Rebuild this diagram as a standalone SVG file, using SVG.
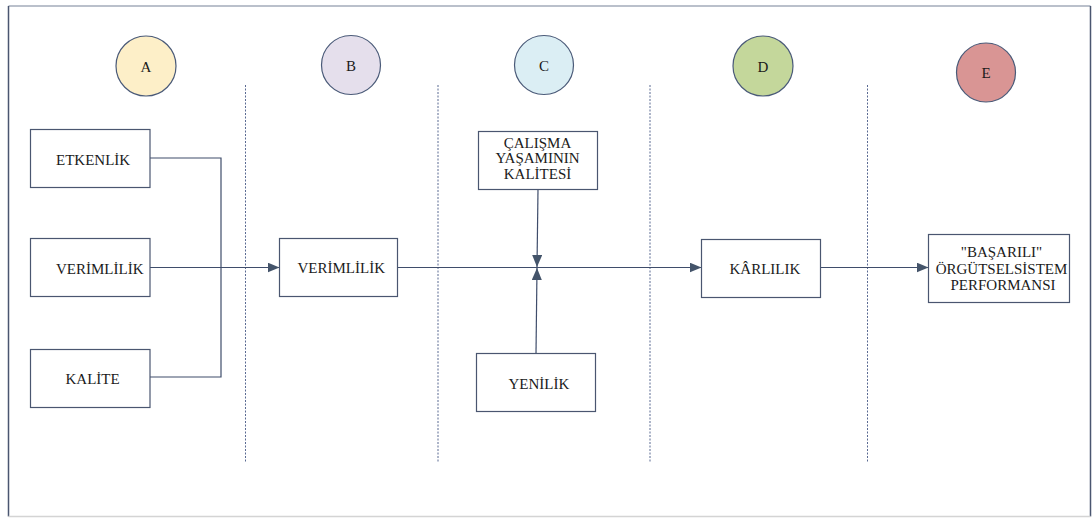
<svg xmlns="http://www.w3.org/2000/svg" width="1092" height="518" viewBox="0 0 1092 518">
  <style>
    .frame-dark { stroke: #4a5670; stroke-width: 1.5; fill: none; }
    .frame-light { stroke: #a3abba; stroke-width: 1.5; fill: none; }
    .lane { stroke: #5a6a92; stroke-width: 1; stroke-dasharray: 2 1.5; fill: none; }
    .circle { stroke: #4a5a78; stroke-width: 1.2; }
    .box { fill: #ffffff; stroke: #4a5670; stroke-width: 1.2; }
    .conn { stroke: #3f4d6b; stroke-width: 1.2; fill: none; }
    .label { font-family: 'Liberation Serif', 'Times New Roman', 'DejaVu Serif', serif; font-size: 15px; font-weight: normal; fill: #1a1a1a; }
    .mid { text-anchor: middle; }
  </style>
  <defs>
    <marker id="arrow" viewBox="0 0 12 10" refX="12" refY="5" markerWidth="12" markerHeight="10" markerUnits="userSpaceOnUse" orient="auto">
      <path d="M0,0 L12,5 L0,10 Z" fill="#44546a"/>
    </marker>
  </defs>

  <rect width="1092" height="518" fill="#ffffff"/>

  <!-- outer frame -->
  <g id="frame">
    <line class="frame-light" x1="8.5" y1="6" x2="1090.5" y2="6"/>
    <line class="frame-dark" x1="8.5" y1="6" x2="8.5" y2="516.5"/>
    <line class="frame-dark" x1="1090.5" y1="6" x2="1090.5" y2="516.5"/>
    <line stroke="#d4d4d4" stroke-width="1.5" x1="8.5" y1="516.5" x2="1090.5" y2="516.5"/>
  </g>

  <!-- dashed lane separators -->
  <g id="lanes">
    <line class="lane" x1="245.5" y1="85" x2="245.5" y2="463"/>
    <line class="lane" x1="438" y1="85" x2="438" y2="463"/>
    <line class="lane" x1="650" y1="85" x2="650" y2="463"/>
    <line class="lane" x1="867.5" y1="85" x2="867.5" y2="463"/>
  </g>

  <!-- column headers -->
  <g id="col-a">
    <circle class="circle" cx="146" cy="66" r="30" fill="#fdefc8"/>
    <text class="label mid" x="146" y="71.5" font-family="Liberation Serif, serif">A</text>
  </g>
  <g id="col-b">
    <circle class="circle" cx="351" cy="65" r="29.5" fill="#e5dfec"/>
    <text class="label mid" x="351" y="70.5" font-family="Liberation Serif, serif">B</text>
  </g>
  <g id="col-c">
    <circle class="circle" cx="544" cy="65" r="29.5" fill="#dbeef4"/>
    <text class="label mid" x="544" y="70.5" font-family="Liberation Serif, serif">C</text>
  </g>
  <g id="col-d">
    <circle class="circle" cx="763" cy="66" r="30" fill="#c4d79b"/>
    <text class="label mid" x="763" y="71.5" font-family="Liberation Serif, serif">D</text>
  </g>
  <g id="col-e">
    <circle class="circle" cx="986" cy="72.5" r="29.5" fill="#d99594"/>
    <text class="label mid" x="986" y="78" font-family="Liberation Serif, serif">E</text>
  </g>

  <!-- connectors -->
  <g id="connectors">
    <polyline class="conn" points="150,158 221,158 221,377 150,377"/>
    <line class="conn" x1="150" y1="267.5" x2="279.5" y2="267.5" marker-end="url(#arrow)"/>
    <line class="conn" x1="397.5" y1="267.5" x2="701.5" y2="267.5" marker-end="url(#arrow)"/>
    <line class="conn" x1="820.5" y1="267.5" x2="928.5" y2="267.5" marker-end="url(#arrow)"/>
    <line class="conn" x1="538" y1="189.5" x2="537" y2="267" marker-end="url(#arrow)"/>
    <line class="conn" x1="536" y1="353.5" x2="537" y2="268" marker-end="url(#arrow)"/>
  </g>

  <!-- nodes -->
  <g id="etkenlik" font-family="Liberation Serif, serif">
    <rect class="box" x="30.5" y="129.5" width="119.5" height="58"/>
    <text class="label" x="56" y="164.5">ETKENLİK</text>
  </g>
  <g id="verimlilik-a" font-family="Liberation Serif, serif">
    <rect class="box" x="30.5" y="238.5" width="119.5" height="58"/>
    <text class="label" x="56" y="273.5">VERİMLİLİK</text>
  </g>
  <g id="kalite" font-family="Liberation Serif, serif">
    <rect class="box" x="30.5" y="349.5" width="119.5" height="58"/>
    <text class="label" x="65.5" y="383.5">KALİTE</text>
  </g>
  <g id="verimlilik-b" font-family="Liberation Serif, serif">
    <rect class="box" x="279.5" y="238.5" width="118" height="58"/>
    <text class="label" x="297.5" y="273">VERİMLİLİK</text>
  </g>
  <g id="calisma-yasami" font-family="Liberation Serif, serif">
    <rect class="box" x="478.5" y="131.5" width="119" height="58"/>
    <text class="label mid" x="537.5" y="147.5">ÇALIŞMA</text>
    <text class="label mid" x="537.5" y="163">YAŞAMININ</text>
    <text class="label mid" x="537.5" y="179">KALİTESİ</text>
  </g>
  <g id="yenilik" font-family="Liberation Serif, serif">
    <rect class="box" x="476.5" y="353.5" width="119" height="58"/>
    <text class="label" x="508.5" y="388.5">YENİLİK</text>
  </g>
  <g id="karlilik" font-family="Liberation Serif, serif">
    <rect class="box" x="701.5" y="239.5" width="119" height="58"/>
    <text class="label" x="729.5" y="273.5">KÂRLILIK</text>
  </g>
  <g id="basarili-performans" font-family="Liberation Serif, serif">
    <rect class="box" x="928.5" y="234.5" width="141" height="68"/>
    <text class="label mid" x="1001.5" y="256.5">"BAŞARILI"</text>
    <text class="label mid" x="1001.5" y="274">ÖRGÜTSELSİSTEM</text>
    <text class="label mid" x="1003" y="289.5">PERFORMANSI</text>
  </g>
</svg>
